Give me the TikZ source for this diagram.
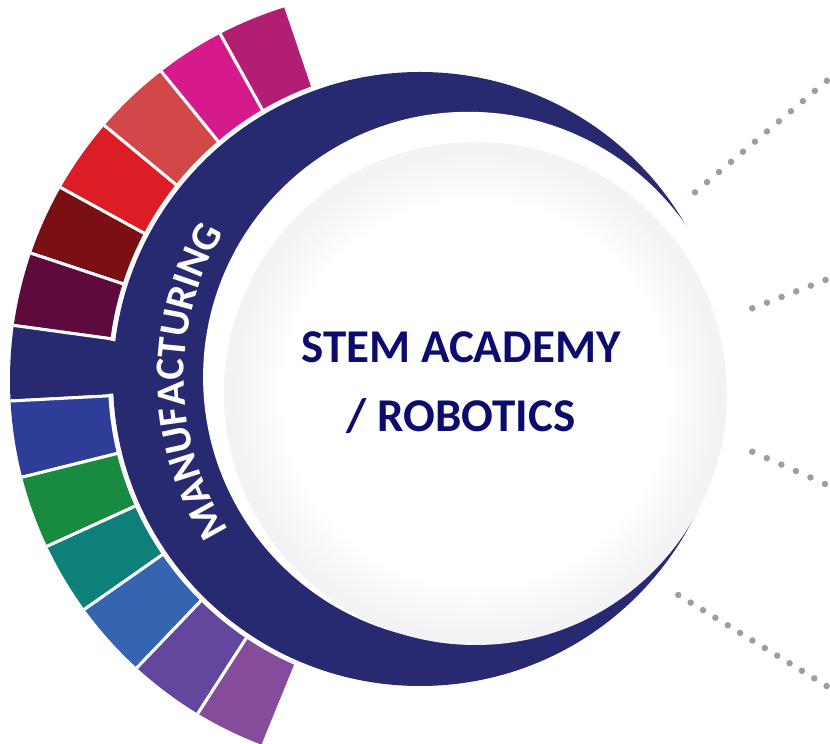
\documentclass[tikz,border=0pt]{standalone}
\usepackage{fontspec}
\setmainfont{Carlito}
\usepackage{tikz}
\usetikzlibrary{calc, decorations.text}
\definecolor{navyring}{RGB}{39,41,113}
\definecolor{titleblue}{RGB}{12,12,110}
\definecolor{dotgray}{RGB}{158,158,160}
\definecolor{shadegray}{RGB}{243,243,246}
\definecolor{segone}{RGB}{178,31,114}
\definecolor{segtwo}{RGB}{214,25,139}
\definecolor{segthree}{RGB}{210,72,72}
\definecolor{segfour}{RGB}{221,29,38}
\definecolor{segfive}{RGB}{122,16,20}
\definecolor{segsix}{RGB}{94,10,60}
\definecolor{segseven}{RGB}{46,62,152}
\definecolor{segeight}{RGB}{24,139,64}
\definecolor{segnine}{RGB}{12,128,121}
\definecolor{segten}{RGB}{53,101,176}
\definecolor{segeleven}{RGB}{99,71,158}
\definecolor{segtwelve}{RGB}{132,76,154}
\pgfdeclareradialshading{discglow}{\pgfpoint{0bp}{0bp}}{color(0bp)=(white); color(19bp)=(white); color(24bp)=(shadegray); color(25bp)=(shadegray); color(50bp)=(shadegray)}
\newcommand{\ringfont}{\fontsize{41}{48}\selectfont\bfseries}
\tikzset{
	dotline/.style={line width=6.5pt, draw=dotgray, line cap=round, dash pattern=on 0pt off #1},
	segpiece/.style={fill=#1, draw=white, line width=3pt}
}

\begin{document}
\begin{tikzpicture}[x=1pt, y=1pt]
			\useasboundingbox (0,0) rectangle (830,744);
			
			\coordinate (segc) at (412,364);
			\coordinate (bandc) at (400,364);
			\coordinate (ringc) at (420,365);
			\coordinate (inc) at (468.4,366.9);
			\coordinate (glowc) at (475.5,350.5);
			
			% coloured band
			\begin{scope}
				\clip (bandc) circle[radius=390];
				\foreach \a/\b/\segcol in {108.7/119.0/segone, 119.0/129.1/segtwo, 129.1/140.4/segthree, 140.4/151.3/segfour, 151.3/161.6/segfive, 161.6/172.2/segsix, 172.2/183.0/navyring, 183.0/194.0/segseven, 194.0/204.5/segeight, 204.5/215.0/segnine, 215.0/226.3/segten, 226.3/237.3/segeleven, 237.3/247.8/segtwelve}
				\filldraw[segpiece=\segcol] (segc) -- ($(segc)+(\a:600)$) -- ($(segc)+(\b:600)$) -- cycle;
			\end{scope}
			\fill[white] (ringc) circle[radius=312];
			\fill[navyring] (segc) -- ($(segc)+(172.6:320)$) -- ($(segc)+(182.6:320)$) -- cycle;
			
			% crescent
			\fill[navyring] (ringc) circle[radius=307];
			\fill[white] (inc) circle[radius=265.3];
			\shade[shading=discglow] (glowc) circle[radius=251.5];
			
			\path[decorate, decoration={text along path, text align=center, text color=white, text={|\ringfont|MANUFACTURING}}] ($(inc)+(221:284.5)$) arc[start angle=221, end angle=141, radius=284.5];
			
			\node(stemline) [anchor=base, text=titleblue, font=\fontsize{47}{56}\selectfont\bfseries] at (461,381.3) {STEM ACADEMY};
			\node(roboline) [anchor=base, text=titleblue, font=\fontsize{47}{56}\selectfont\bfseries] at (461,312.3) {/ ROBOTICS};
			
			\coordinate (d1s) at (695,551.7);
			\coordinate (d1e) at (829,665);
			\coordinate (d2s) at (752.3,435.7);
			\coordinate (d2e) at (828,465);
			\coordinate (d3s) at (752.3,292.3);
			\coordinate (d3e) at (828,258.7);
			\coordinate (d4s) at (678.3,149);
			\coordinate (d4e) at (829,56.6);
			
			\draw[dotline=15.7pt] (d1s) -- (d1e);
			\draw[dotline=15.7pt] (d2s) -- (d2e);
			\draw[dotline=15.9pt] (d3s) -- (d3e);
			\draw[dotline=14.5pt] (d4s) -- (d4e);
		\end{tikzpicture}
\end{document}
